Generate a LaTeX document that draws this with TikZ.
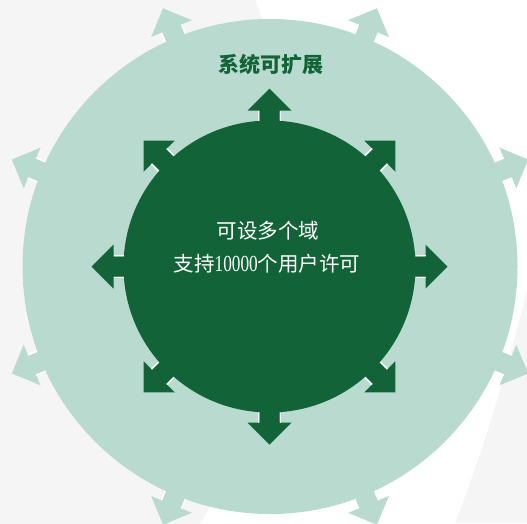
\documentclass[tikz,border=0pt]{standalone}
\usepackage{fontspec}
\usepackage{graphicx}
\newfontfamily\cjk{Noto Sans CJK SC}
\newfontfamily\digitfont{Liberation Serif}
\definecolor{dkgreen}{RGB}{18,100,56}
\definecolor{ltgreen}{RGB}{185,218,206}
\definecolor{bggrey}{RGB}{245,245,245}
\begin{document}
\begin{tikzpicture}[x=1pt,y=-1pt,
  outerarrow/.style={fill=ltgreen},
  innerarrow/.style={fill=dkgreen},
  gapline/.style={draw=white,line width=1.6pt},
  titletext/.style={text=dkgreen,font=\cjk\bfseries\fontsize{21}{25}\selectfont,inner sep=0pt},
  maintext/.style={text=white,font=\cjk\fontsize{20.5}{25}\selectfont,inner sep=0pt}]
\path[use as bounding box] (0,0) rectangle (527,523);
\begin{scope}
\clip (0,0) rectangle (527,523);
\fill[white] (0,0) rectangle (527,523);
\fill[bggrey] (-300,206) circle[radius=592pt];
\fill[bggrey] (527,290) .. controls (505,380) and (480,460) .. (455,523) -- (527,523) -- cycle;
% outer ring
\def\Ro{247.5}
\fill[ltgreen] (270,266.5) circle[radius=\Ro pt];
\foreach \a in {22.5,67.5,112.5,157.5,202.5,247.5,292.5,337.5}{
  \begin{scope}[shift={(270,266.5)},rotate=\a]
    \path[outerarrow] (\Ro-8,-10) -- (\Ro+10,-10) -- (\Ro+10,-22) -- (\Ro+32,0)
      -- (\Ro+10,22) -- (\Ro+10,10) -- (\Ro-8,10) -- cycle;
    \path[gapline] (\Ro,11) -- (\Ro+10,11) (\Ro,-11) -- (\Ro+10,-11);
  \end{scope}
}
% inner disc
\def\Ri{146}
\fill[dkgreen] (269.5,266.5) circle[radius=\Ri pt];
\foreach \a in {0,45,...,315}{
  \begin{scope}[shift={(269.5,266.5)},rotate=\a]
    \path[innerarrow] (\Ri-8,-10) -- (\Ri+10,-10) -- (\Ri+10,-22) -- (\Ri+32,0)
      -- (\Ri+10,22) -- (\Ri+10,10) -- (\Ri-8,10) -- cycle;
    \path[gapline] (\Ri,11) -- (\Ri+10,11) (\Ri,-11) -- (\Ri+10,-11);
  \end{scope}
}
\end{scope}
\node[titletext] (title) at (270.5,64) {系统可扩展};
\node[maintext] (line1) at (268,231) {可设多个域};
\node[maintext] (line2) at (267,264) {支持\scalebox{0.75}[1]{\digitfont\fontsize{23}{25}\selectfont 10000}个用户许可};
\end{tikzpicture}
\end{document}
